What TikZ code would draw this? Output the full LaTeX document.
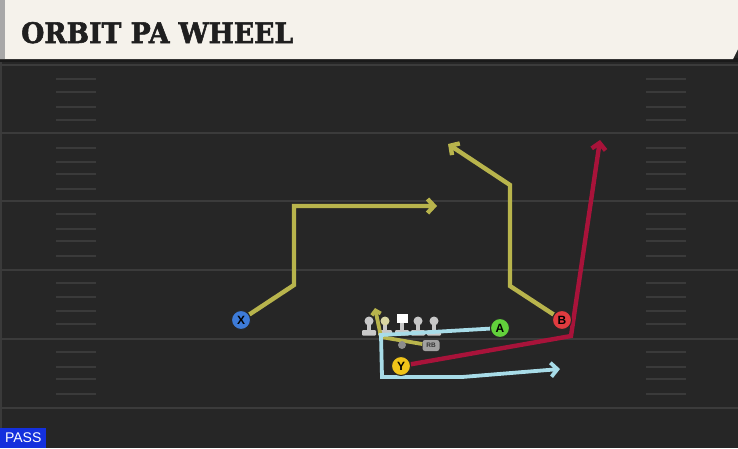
\documentclass[tikz,border=0pt]{standalone}
\usepackage{fontspec}
\usepackage{graphicx}
\usetikzlibrary{arrows.meta}
\newfontfamily\titlefont{DejaVu Serif}[BoldFeatures={FakeBold=2}]
\newfontfamily\labfont{Liberation Sans}
\definecolor{fieldbg}{HTML}{262626}
\definecolor{yardc}{HTML}{3B3B3B}
\definecolor{hashc}{HTML}{3A3A3A}
\definecolor{bannerc}{HTML}{F5F2EB}
\definecolor{bannerside}{HTML}{A8A8A8}
\definecolor{shadowc}{HTML}{1A1A1A}
\definecolor{edgec}{HTML}{3A3A3A}
\definecolor{routey}{HTML}{B8B44C}
\definecolor{router}{HTML}{A8133A}
\definecolor{routec}{HTML}{A8DCE8}
\definecolor{xblue}{HTML}{3D7BD8}
\definecolor{agreen}{HTML}{62D13B}
\definecolor{bred}{HTML}{E03B3F}
\definecolor{yyellow}{HTML}{F0C419}
\definecolor{passc}{HTML}{1430DD}
\definecolor{lmc}{HTML}{C8C8C8}
\definecolor{lmy}{HTML}{D9D6A3}
\definecolor{qbc}{HTML}{8C8C8C}
\definecolor{rbc}{HTML}{A0A0A0}
\pgfdeclarelayer{field}
\pgfdeclarelayer{background}
\pgfsetlayers{field,background,main}
\begin{document}
\begin{tikzpicture}[x=1pt,y=-1pt,
  yard/.style={draw=yardc,line width=2.2pt},
  hashm/.style={draw=hashc,line width=1.6pt},
  route/.style={line width=4.4pt,line join=miter,-{Straight Barb[length=6.5pt,width=14pt]}},
  plyr/.style={circle,draw=black!85,line width=1pt,minimum size=19pt,inner sep=0pt,
    font=\labfont\bfseries\fontsize{12}{12}\selectfont,text=black},
  lmbody/.pic={
    \fill[lmc] (-2,2) rectangle (2,10);
    \fill[lmc,rounded corners=1pt] (-7,9) rectangle (7,14.5);
  },
  lman/.pic={
    \pic {lmbody};
    \fill[lmc] (0,0) circle (4.5);
  },
  yman/.pic={
    \pic {lmbody};
    \fill[lmy] (0,0) circle (4.5);
  },
  cman/.pic={
    \pic {lmbody};
    \fill[white] (-5.5,-7.5) rectangle (5.5,2);
  }
]
\useasboundingbox (0,0) rectangle (738,448);
\begin{pgfonlayer}{field}
\fill[fieldbg] (0,0) rectangle (738,448);
\fill[edgec] (0,60) rectangle (2,448);
\foreach \y in {65,133,201,270,339,408} \draw[yard] (0,\y) -- (738,\y);
\foreach \y in {79,92,107,120,148,162,174,189,214,229,241,256,283,297,311,324,352,367,379,394}
  {\draw[hashm] (56,\y) -- (96,\y); \draw[hashm] (646,\y) -- (686,\y);}
\fill[shadowc] (0,58) rectangle (738,62);
\fill[bannerc] (0,0) -- (738,0) -- (738,49) -- (733,59) -- (0,59) -- cycle;
\fill[bannerside] (0,0) rectangle (5,59);
\end{pgfonlayer}

\node[anchor=base west,inner sep=0pt,text=black!88] (title) at (21,43)
  {\resizebox{272pt}{21pt}{\titlefont\bfseries ORBIT PA WHEEL}};
\node[fill=passc,anchor=south west,inner sep=0pt,minimum width=46pt,minimum height=20pt,
  text=white,font=\labfont\fontsize{14}{14}\selectfont] (pass) at (0,448) {PASS};

% players
\node[plyr,fill=xblue] (X) at (241,320) {X};
\node[plyr,fill=agreen] (A) at (500,328) {A};
\node[plyr,fill=bred] (B) at (562,320) {B};
\node[plyr,fill=yyellow] (Y) at (401,366) {Y};
\node[circle,fill=qbc,minimum size=8pt,inner sep=0pt] (QB) at (402,345) {};
\node[rounded corners=2.5pt,fill=rbc,minimum width=17pt,minimum height=11pt,inner sep=0pt,
  font=\labfont\bfseries\fontsize{6.5}{6.5}\selectfont,text=black!80] (RB) at (431,345.5) {RB};

% route points
\coordinate (x1) at (294,285);
\coordinate (x2) at (294,206);
\coordinate (x3) at (437,206);
\coordinate (b1) at (510,286);
\coordinate (b2) at (510,185);
\coordinate (b3) at (448,144);
\coordinate (r1) at (571,336);
\coordinate (r2) at (600,140);
\coordinate (c1) at (381,335);
\coordinate (c2) at (382,377);
\coordinate (c3) at (462,377);
\coordinate (c4) at (560,369);
\coordinate (k1) at (381,337);
\coordinate (k2) at (375,308);

\begin{pgfonlayer}{background}
\pic at (369,321) {lman};
\pic at (385,321) {yman};
\pic at (402,321) {cman};
\pic at (418,321) {lman};
\pic at (434,321) {lman};
\draw[route,draw=routey] (X) -- (x1) -- (x2) -- (x3);
\draw[route,draw=routey] (B) -- (b1) -- (b2) -- (b3);
\draw[route,draw=router] (Y) -- (r1) -- (r2);
\draw[route,draw=routey,line width=3.8pt,-{Straight Barb[length=4pt,width=9pt]}] (RB) -- (k1) -- (k2);
\draw[route,draw=routec,line width=3.8pt] (A) -- (c1) -- (c2) -- (c3) -- (c4);
\end{pgfonlayer}
\end{tikzpicture}
\end{document}
